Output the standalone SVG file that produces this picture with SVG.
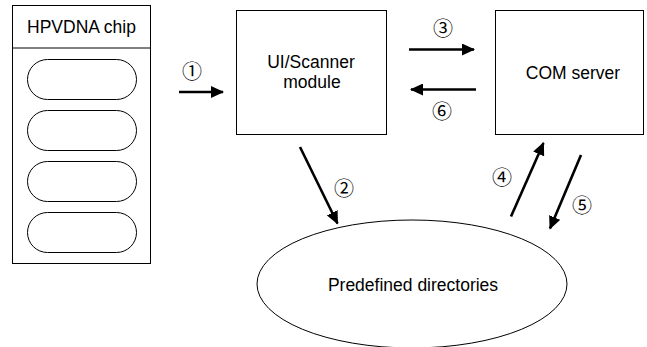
<svg xmlns="http://www.w3.org/2000/svg" width="647" height="347" viewBox="0 0 647 347">
<defs>
<style>
.box{fill:#fff;stroke:#000;stroke-width:1}
.lbl{font-family:"Liberation Sans",Arial,sans-serif;font-size:17.5px;fill:#000;text-anchor:middle}
.num{font-family:"Noto Sans CJK JP","Noto Sans CJK SC","DejaVu Serif",serif;font-size:20px;font-weight:400;fill:#000;text-anchor:middle;dominant-baseline:central}
.arr{stroke:#000;stroke-width:2.6;fill:none;marker-end:url(#ah)}
</style>
<marker id="ah" markerUnits="userSpaceOnUse" markerWidth="14" markerHeight="12" refX="12" refY="6" orient="auto">
<path d="M0,0 L13,6 L0,12 Z" fill="#000"/>
</marker>
</defs>
<rect width="647" height="347" fill="#fff"/>
<g id="chip">
<rect class="box" x="12.5" y="5.5" width="138" height="258"/>
<line x1="12.5" y1="48" x2="150.5" y2="48" stroke="#000" stroke-width="1"/>
<text class="lbl" x="81.5" y="33">HPVDNA chip</text>
<rect class="box" x="27.5" y="59.5" width="109" height="40" rx="20" ry="20"/>
<rect class="box" x="27.5" y="110.5" width="109" height="40" rx="20" ry="20"/>
<rect class="box" x="27.5" y="161.5" width="109" height="40" rx="20" ry="20"/>
<rect class="box" x="27.5" y="212.5" width="109" height="40" rx="20" ry="20"/>
</g>
<g id="ui">
<rect class="box" x="236.5" y="10.5" width="150" height="124"/>
<text class="lbl" x="311" y="68">UI/Scanner</text>
<text class="lbl" x="312" y="88">module</text>
</g>
<g id="com">
<rect class="box" x="495.5" y="10.5" width="148" height="124"/>
<text class="lbl" x="573" y="78.5">COM server</text>
</g>
<g id="dirs">
<ellipse class="box" cx="412" cy="284" rx="155" ry="64"/>
<text class="lbl" x="413" y="290.5">Predefined directories</text>
</g>
<g id="connectors">
<line class="arr" x1="179" y1="92" x2="223" y2="92"/>
<line class="arr" x1="409" y1="49.5" x2="474" y2="49.5"/>
<line class="arr" x1="476" y1="89.5" x2="411" y2="89.5"/>
<line class="arr" x1="300" y1="147" x2="337.5" y2="223.5"/>
<line class="arr" x1="511" y1="216.5" x2="543.5" y2="143"/>
<line class="arr" x1="581" y1="155" x2="550" y2="228.5"/>
<text class="num" x="192" y="70">①</text>
<text class="num" x="443" y="27">③</text>
<text class="num" x="442" y="110">⑥</text>
<text class="num" x="344" y="187">②</text>
<text class="num" x="502" y="176">④</text>
<text class="num" x="582" y="204">⑤</text>
</g>
</svg>
